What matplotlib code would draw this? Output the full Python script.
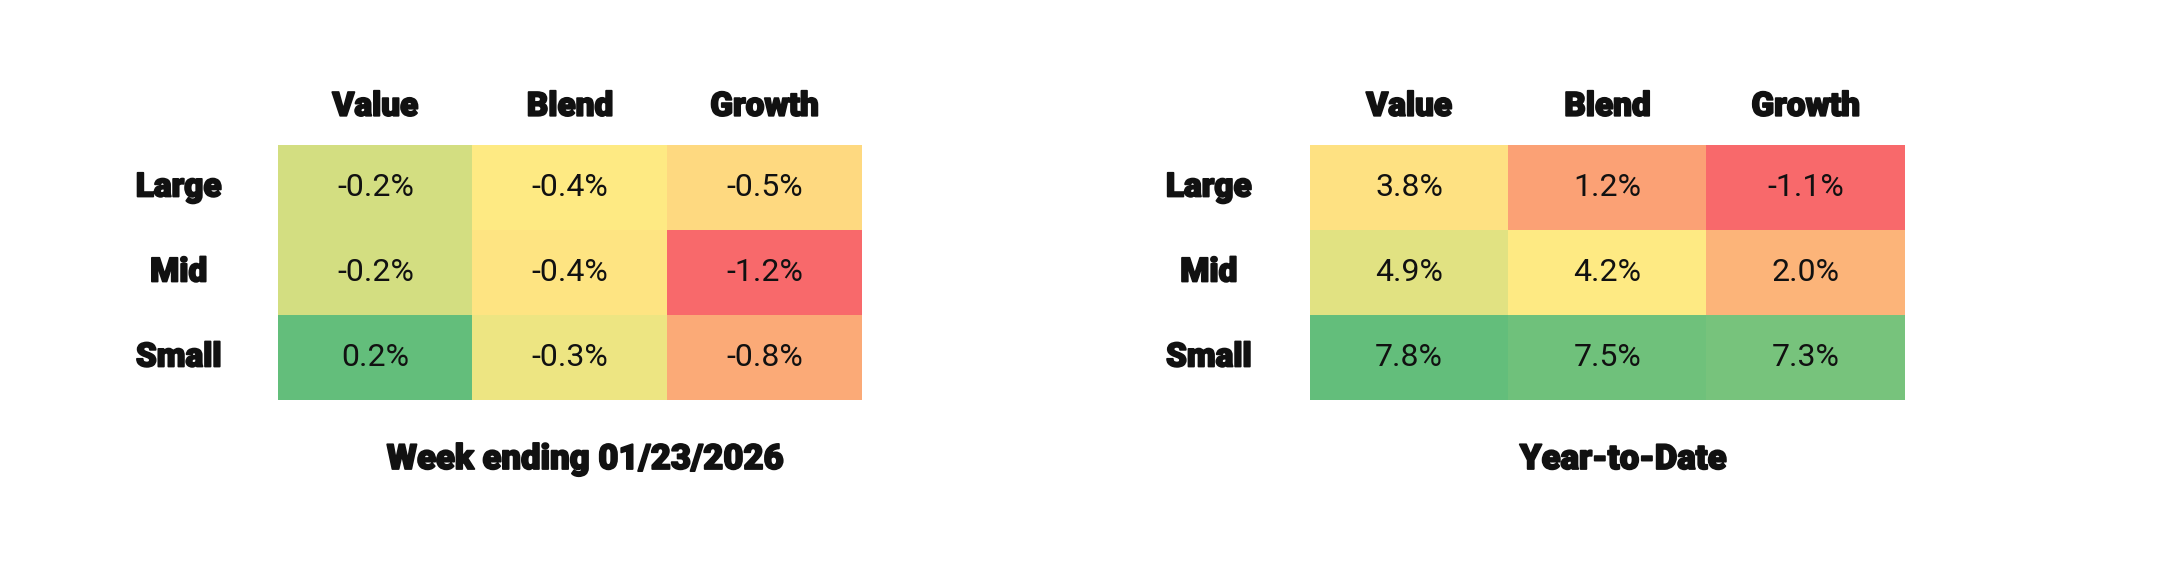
"""Style-box heatmaps: weekly and YTD returns (Large/Mid/Small x Value/Blend/Growth)."""
import numpy as np
import matplotlib
matplotlib.use("Agg")
import matplotlib.pyplot as plt
import matplotlib.patheffects as pe
from matplotlib.colors import LinearSegmentedColormap, TwoSlopeNorm

ROWS = ["Large", "Mid", "Small"]
COLS = ["Value", "Blend", "Growth"]
# weekly returns (%), a bit more precise than shown so the shading matches
WEEK = [[-0.24, -0.41, -0.52],
        [-0.24, -0.449, -1.2],
        [0.2, -0.34, -0.8]]
YTD = [[3.8, 1.2, -1.1],
       [4.9, 4.2, 2.0],
       [7.8, 7.5, 7.3]]
TITLES = ["Week ending 01/23/2026", "Year-to-Date"]

HEAD = ["Roboto", "DejaVu Sans"]
NUM = ["Roboto", "DejaVu Sans"]
INK = "#111111"
THICK = [pe.withStroke(linewidth=1.3, foreground=INK)]  # heavier headings

# excel-like 3 colour scale: red (min) - yellow (median) - green (max)
cmap = LinearSegmentedColormap.from_list("ryg", ["#F8696B", "#FFEB84", "#63BE7B"])

fig = plt.figure(figsize=(21.6, 5.8), dpi=100)
W, H = 2160, 580
hd = dict(ha="center", va="center", fontsize=24, fontweight="black",
          color=INK, family=HEAD, path_effects=THICK)
for data, title, x0, w in [(WEEK, TITLES[0], 278, 584), (YTD, TITLES[1], 1310, 595)]:
    arr = np.array(data)
    ax = fig.add_axes([x0 / W, 1 - 400 / H, w / W, 255 / H])
    norm = TwoSlopeNorm(vmin=arr.min(), vcenter=np.median(arr), vmax=arr.max())
    ax.imshow(arr, cmap=cmap, norm=norm, aspect="auto")
    ax.set_xticks([]); ax.set_yticks([])
    for s in ax.spines.values():
        s.set_visible(False)

    for i in range(len(ROWS)):
        for j in range(len(COLS)):
            ax.text(j, i, f"{arr[i, j]:.1f}%", ha="center", va="center",
                    fontsize=23, color=INK, family=NUM)
    for j, c in enumerate(COLS):
        ax.text(j, -0.95, c, **hd)
    for i, r in enumerate(ROWS):
        ax.text(-1.01, i, r, **hd)
    ax.text(1.08, 3.2, title, **{**hd, "fontsize": 25})

fig.savefig("out.png", dpi=100, facecolor="white")
